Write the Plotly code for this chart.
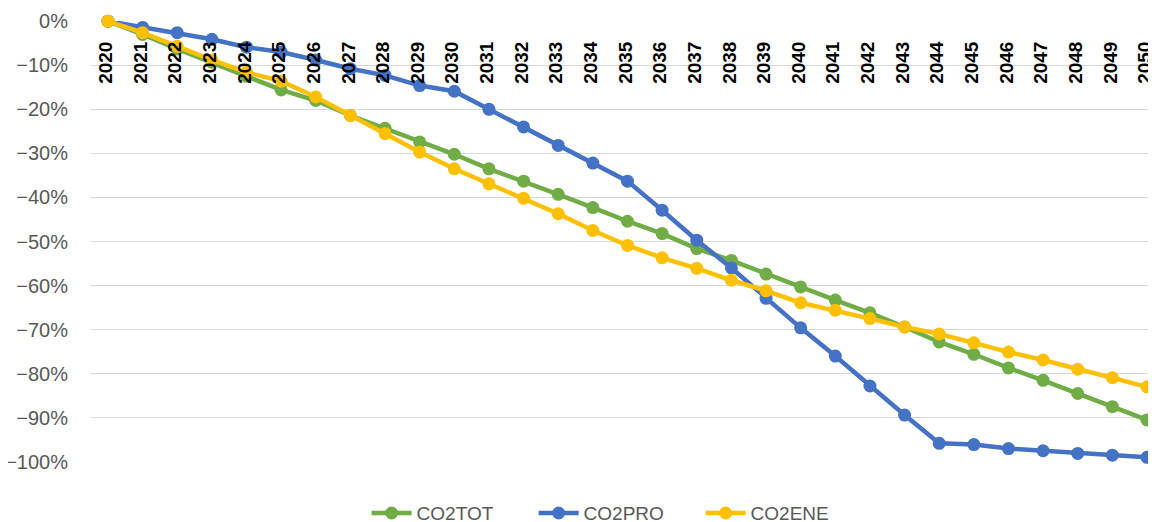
import plotly.graph_objects as go

years = [str(y) for y in range(2020, 2051)]

co2tot = [0.0, -3.0, -6.3, -9.3, -12.5, -15.6, -18.0, -21.4, -24.3, -27.4,
          -30.2, -33.5, -36.3, -39.3, -42.3, -45.4, -48.2, -51.6, -54.3, -57.4,
          -60.3, -63.3, -66.2, -69.4, -72.8, -75.6, -78.7, -81.5, -84.5, -87.5, -90.5]
co2pro = [0.0, -1.4, -2.6, -4.1, -5.9, -7.0, -8.8, -10.8, -12.3, -14.6,
          -15.9, -20.0, -24.0, -28.2, -32.2, -36.3, -42.9, -49.7, -56.0, -62.9,
          -69.6, -76.0, -82.8, -89.4, -95.8, -96.1, -97.0, -97.5, -98.1, -98.5, -99.0]
co2ene = [0.0, -2.6, -5.7, -8.8, -11.6, -13.6, -17.2, -21.4, -25.5, -29.7,
          -33.5, -36.9, -40.2, -43.7, -47.5, -50.9, -53.7, -56.1, -58.8, -61.2,
          -63.9, -65.6, -67.5, -69.4, -71.0, -73.0, -75.1, -76.9, -79.0, -80.9, -83.0]

series = [("CO2TOT", co2tot, "#70AD47"),
          ("CO2PRO", co2pro, "#4472C4"),
          ("CO2ENE", co2ene, "#FFC000")]

fig = go.Figure()
for name, vals, color in series:
    fig.add_trace(go.Scatter(
        x=years, y=[v / 100 for v in vals], name=name, mode="lines+markers",
        line=dict(color=color, width=4.5),
        marker=dict(color=color, size=13),
        cliponaxis=False,
    ))

# page body has an 8px margin, so the figure is sized/offset to compensate
fig.update_layout(
    width=1148, height=514,
    margin=dict(l=83, r=0, t=13, b=60, autoexpand=False),
    plot_bgcolor="white", paper_bgcolor="white",
    showlegend=True,
    legend=dict(orientation="h", xref="paper", yref="paper",
                x=0.494, y=-0.116, xanchor="center", yanchor="middle",
                font=dict(family="Liberation Sans, Arial", size=19, color="#595959"),
                itemwidth=40, entrywidth=112, entrywidthmode="pixels",
                tracegroupgap=0),
    xaxis=dict(
        type="category", range=[-0.49, 30.26], automargin=False,
        anchor="free", position=1, side="bottom",
        showgrid=False, showline=False, zeroline=False,
        tickangle=-90, ticks="outside", ticklen=12, tickcolor="rgba(0,0,0,0)",
        ticklabelshift=-2, ticklabeloverflow="allow",
        tickfont=dict(family="Liberation Sans, Arial", size=19, color="#000000", weight="bold"),
    ),
    yaxis=dict(
        range=[-1.0005, 0.0005], dtick=0.1, tick0=0, tickformat=".0%",
        automargin=False,
        showgrid=True, gridcolor="#D9D9D9", gridwidth=1.3,
        zeroline=False, showline=False,
        ticks="", ticklabelstandoff=22,
        tickfont=dict(family="Liberation Sans, Arial", size=20, color="#595959"),
    ),
)

fig.write_html("out.html")
